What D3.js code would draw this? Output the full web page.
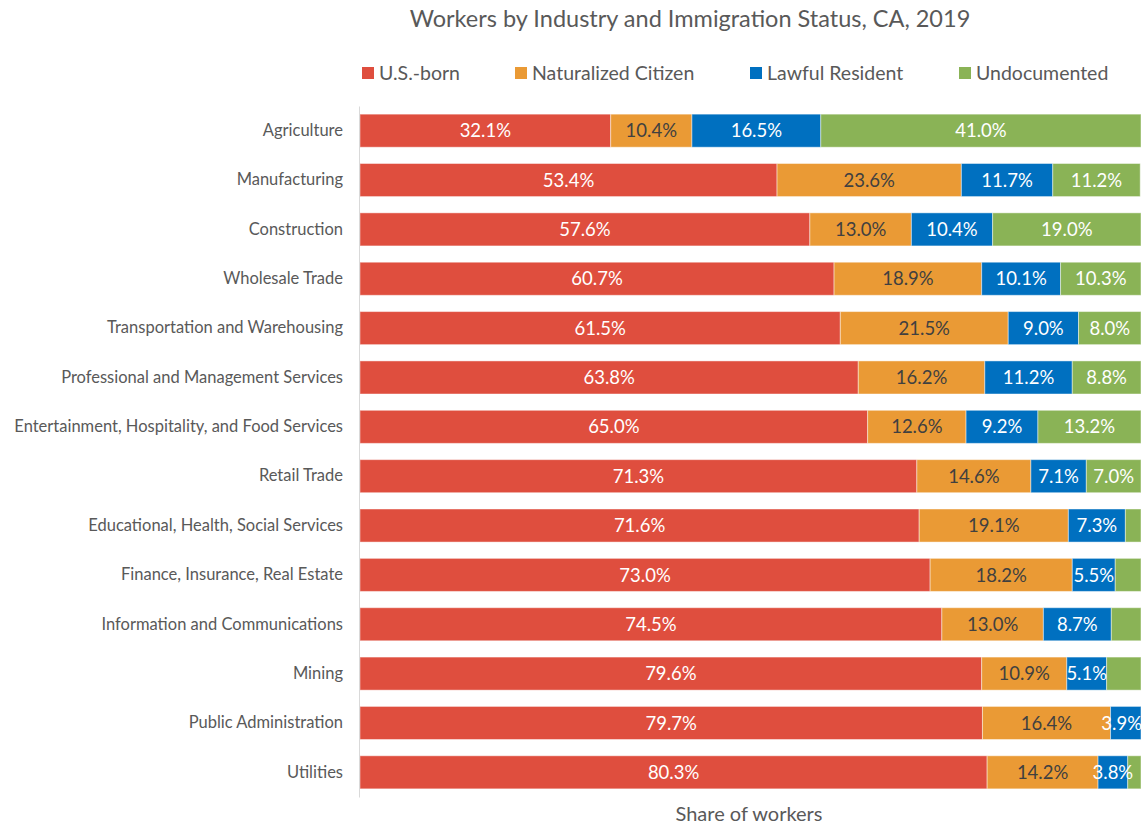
<!DOCTYPE html>
<html>
<head>
<meta charset="utf-8">
<script src="https://cdn.jsdelivr.net/npm/d3@7"></script>
<style>
  html, body { margin: 0; padding: 0; background: #fff; }
  svg { display: block; font-family: Lato, "Open Sans", sans-serif; }
</style>
</head>
<body>
<svg id="chart" width="1143" height="825"></svg>
<script>
// Industries, top to bottom
const industries = [
  "Agriculture",
  "Manufacturing",
  "Construction",
  "Wholesale Trade",
  "Transportation and Warehousing",
  "Professional and Management Services",
  "Entertainment, Hospitality, and Food Services",
  "Retail Trade",
  "Educational, Health, Social Services",
  "Finance, Insurance, Real Estate",
  "Information and Communications",
  "Mining",
  "Public Administration",
  "Utilities"
];

// Share of workers (%) by immigration status
const usBorn      = [32.1, 53.4, 57.6, 60.7, 61.5, 63.8, 65.0, 71.3, 71.6, 73.0, 74.5, 79.6, 79.7, 80.3];
const naturalized = [10.4, 23.6, 13.0, 18.9, 21.5, 16.2, 12.6, 14.6, 19.1, 18.2, 13.0, 10.9, 16.4, 14.2];
const lawful      = [16.5, 11.7, 10.4, 10.1,  9.0, 11.2,  9.2,  7.1,  7.3,  5.5,  8.7,  5.1,  3.9,  3.8];
const undocumented= [41.0, 11.2, 19.0, 10.3,  8.0,  8.8, 13.2,  7.0,  2.0,  3.3,  3.8,  4.4,  0.0,  1.7];

const seriesNames = ["U.S.-born", "Naturalized Citizen", "Lawful Resident", "Undocumented"];
const seriesValues = [usBorn, naturalized, lawful, undocumented];

const colors = ["#DF4E3E", "#EA9A35", "#0070C0", "#8AB356"];
const labelColors = ["#ffffff", "#404040", "#ffffff", "#ffffff"];
// smallest undocumented segment that still gets a value label
const minLabel = 5;

const rows = industries.map((name, i) => {
  const r = { industry: name };
  seriesNames.forEach((s, k) => r[s] = seriesValues[k][i]);
  return r;
});

const svg = d3.select("#chart");
const W = 1143;
const plotLeft = 360, plotRight = 1141, plotTop = 106, plotBottom = 797;

const x = d3.scaleLinear().domain([0, 100]).range([plotLeft, plotRight]);
const y = d3.scaleBand().domain(industries).range([plotTop, plotBottom]).paddingInner(0.33).paddingOuter(0.165);

const stacked = d3.stack().keys(seriesNames)(rows);

// Title
svg.append("text")
  .attr("x", 690).attr("y", 27)
  .attr("text-anchor", "middle")
  .attr("font-size", 23.5)
  .attr("fill", "#595959")
  .text("Workers by Industry and Immigration Status, CA, 2019");

// Legend
const legendX = [362, 515, 750, 959];
const legend = svg.append("g");
seriesNames.forEach((s, k) => {
  const g = legend.append("g").attr("transform", `translate(${legendX[k]},73)`);
  g.append("rect").attr("x", 0).attr("y", -6).attr("width", 12).attr("height", 12).attr("fill", colors[k]);
  g.append("text").attr("x", 17).attr("y", 0).attr("dy", "0.35em")
    .attr("font-size", 19.5).attr("fill", "#595959").text(s);
});

// Bars
const layers = svg.append("g").selectAll("g")
  .data(stacked).join("g")
  .attr("fill", (d, k) => colors[k]);

layers.selectAll("rect")
  .data(d => d.map(p => ({ p, industry: p.data.industry })))
  .join("rect")
  .attr("x", d => x(d.p[0]))
  .attr("y", d => y(d.industry))
  .attr("width", d => Math.max(0, x(d.p[1]) - x(d.p[0])))
  .attr("height", y.bandwidth())
  .attr("stroke", "rgba(255,255,255,0.45)")
  .attr("stroke-width", 1);

// Value labels, centred on their segment but kept inside the page
stacked.forEach((layer, k) => {
  svg.append("g").selectAll("text")
    .data(layer.filter(p => (p[1] - p[0]) >= minLabel || k < 3))
    .join("text")
    .attr("x", p => (x(p[0]) + x(p[1])) / 2)
    .attr("y", p => y(p.data.industry) + y.bandwidth() / 2)
    .attr("dy", "0.36em")
    .attr("text-anchor", "middle")
    .attr("font-size", 18.5)
    .attr("fill", labelColors[k])
    .text(p => d3.format(".1f")(p[1] - p[0]) + "%")
    .each(function () {
      const w = this.getComputedTextLength();
      const cx = +this.getAttribute("x");
      if (cx + w / 2 > W - 1) this.setAttribute("x", W - 1 - w / 2);
    });
});

// Category axis
const yAxis = svg.append("g")
  .attr("transform", `translate(${plotLeft - 1},0)`)
  .call(d3.axisLeft(y).tickSize(0).tickPadding(16));
yAxis.select(".domain").attr("stroke", "#D9D9D9");
yAxis.selectAll("text").attr("font-size", 16.5).attr("fill", "#595959").attr("font-family", "Lato, 'Open Sans', sans-serif");

// Axis title
svg.append("text")
  .attr("x", 749).attr("y", 821)
  .attr("text-anchor", "middle")
  .attr("font-size", 20)
  .attr("fill", "#595959")
  .text("Share of workers");
</script>
</body>
</html>
